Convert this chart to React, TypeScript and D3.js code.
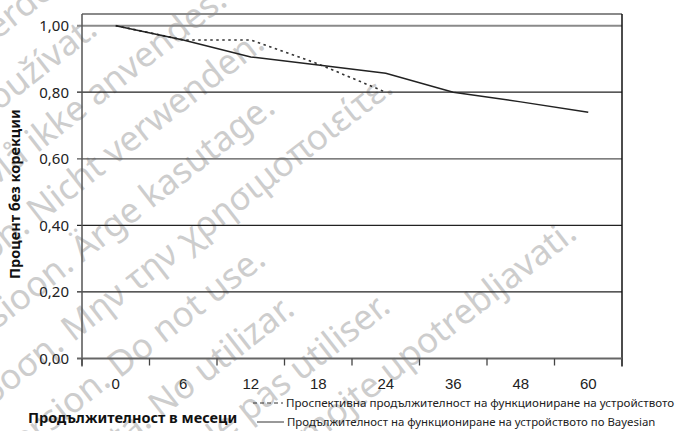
import React from "react";
import * as d3 from "d3";

// ---- data ----
const months = ["0", "6", "12", "18", "24", "36", "48", "60"];
const bayesian = [1.0, 0.957, 0.906, 0.882, 0.857, 0.8, 0.771, 0.74];
const prospective = [1.0, 0.957, 0.957, 0.885, 0.8];
const yTicks = [0, 0.2, 0.4, 0.6, 0.8, 1.0];
const yTickLabels = ["0,00", "0,20", "0,40", "0,60", "0,80", "1,00"];
const yTitle = "Процент без корекции";
const xTitle = "Продължителност в месеци";
const legendLabels = [
  "Проспективна продължителност на функциониране на устройството",
  "Продължителност на функциониране на устройството по Bayesian",
];
const watermarkTexts = [
  "Verouderde versie. Niet gebruiken.",
  "Zastaralá verze. Nepoužívat.",
  "Forældet version. Må ikke anvendes.",
  "Veraltete Version. Nicht verwenden.",
  "Aegunud versioon. Ärge kasutage.",
  "Παλιά έκδοση. Μην την χρησιμοποιείτε.",
  "Outdated version. Do not use.",
  "Versión obsoleta. No utilizar.",
  "Version obsolète. Ne pas utiliser.",
  "Zastarjela verzija. Nemojte upotrebljavati.",
];

// ---- layout ----
const W = 678;
const H = 431;
const left = 82;
const right = 622;
const top = 14;
const bottom = 358.5;
const yMax = 1.035;
const wmEnds = [427, 58, 178, 181, 150, 255, 49, 41, 118, 310];
const wmStart = 30;
const wmStep = 57;
const wmAngle = 38;

export default function App() {
  const x = d3.scaleBand<string>().domain(months).range([left, right]).padding(0);
  const y = d3.scaleLinear().domain([0, yMax]).range([bottom, top]);
  const cx = (m: string) => (x(m) as number) + x.bandwidth() / 2;

  const line = d3
    .line<[string, number]>()
    .x((d) => cx(d[0]))
    .y((d) => y(d[1]))
    .curve(d3.curveLinear);

  const solidData: [string, number][] = bayesian.map((v, i) => [months[i], v]);
  const dashData: [string, number][] = prospective.map((v, i) => [months[i], v]);

  const rad = (wmAngle * Math.PI) / 180;
  const cs = Math.cos(rad);
  const sn = Math.sin(rad);

  const tickXs = months.map((m) => x(m) as number).concat([right]);

  return (
    <svg
      width={W}
      height={H}
      style={{ position: "absolute", left: 0, top: 0, background: "#fff" }}
    >
      <rect x={0} y={0} width={W} height={H} fill="#fff" />
      {/* watermark */}
      <g fill="#cdcdcd" fontFamily="'Noto Sans', sans-serif" fontSize={35}>
        {watermarkTexts.map((t, i) => {
          const c = wmStart + i * wmStep;
          const a = wmEnds[i];
          const px = a * cs + c * sn;
          const py = -a * sn + c * cs;
          return (
            <text
              key={i}
              textAnchor="end"
              transform={`translate(${px},${py}) rotate(${-wmAngle})`}
            >
              {t}
            </text>
          );
        })}
      </g>

      {/* gridlines */}
      {yTicks.map((v, i) => {
        if (v === 0) return null;
        const isTop = v === 1;
        return (
          <line
            key={i}
            x1={left - 5}
            x2={right}
            y1={y(v)}
            y2={y(v)}
            stroke={isTop ? "#8a8a8a" : v === 0.6 ? "#555" : "#222"}
            strokeWidth={isTop ? 2 : 1.3}
          />
        );
      })}
      {/* top border */}
      <line x1={left} x2={right} y1={top} y2={top} stroke="#8a8a8a" strokeWidth={2} />
      {/* left axis */}
      <line x1={left} x2={left} y1={top} y2={bottom + 8} stroke="#555" strokeWidth={1.5} />
      {/* right border */}
      <line x1={right} x2={right} y1={top} y2={bottom + 8} stroke="#111" strokeWidth={1.5} />
      {/* x axis */}
      <line x1={left - 5} x2={right} y1={bottom} y2={bottom} stroke="#666" strokeWidth={2} />
      {tickXs.map((tx, i) => (
        <line key={i} x1={tx} x2={tx} y1={bottom} y2={bottom + 7} stroke="#444" strokeWidth={1.3} />
      ))}

      {/* y tick labels */}
      {yTicks.map((v, i) => (
        <text
          key={i}
          x={69}
          y={y(v) + 5.5}
          textAnchor="end"
          fontFamily="'Noto Sans', sans-serif"
          fontSize={15}
          fill="#222"
        >
          {yTickLabels[i]}
        </text>
      ))}

      {/* x tick labels */}
      {months.map((m) => (
        <text
          key={m}
          x={cx(m)}
          y={389}
          textAnchor="middle"
          fontFamily="'Liberation Sans', Arial, sans-serif"
          fontSize={15}
          fill="#222"
        >
          {m}
        </text>
      ))}

      {/* series */}
      <path d={line(dashData) || ""} fill="none" stroke="#333" strokeWidth={1.6} strokeDasharray="2.5,3.5" />
      <path d={line(solidData) || ""} fill="none" stroke="#222" strokeWidth={1.5} />

      {/* axis titles */}
      <text
        transform={`translate(20,${(y(1) + bottom) / 2 + 2}) rotate(-90)`}
        textAnchor="middle"
        fontFamily="'Noto Sans', sans-serif"
        fontWeight="bold"
        fontSize={14.5}
        fill="#111"
      >
        {yTitle}
      </text>
      <text
        x={28}
        y={423}
        fontFamily="'Noto Sans', sans-serif"
        fontWeight="bold"
        fontSize={14.5}
        fill="#111"
      >
        {xTitle}
      </text>

      {/* legend */}
      <line x1={253} x2={283} y1={403} y2={403} stroke="#333" strokeWidth={1} strokeDasharray="4,3" />
      <line x1={257} x2={284} y1={422} y2={422} stroke="#333" strokeWidth={1} />
      <text x={286} y={407} fontFamily="'Noto Sans', sans-serif" fontSize={11.6} fill="#222">
        {legendLabels[0]}
      </text>
      <text x={287} y={426} fontFamily="'Noto Sans', sans-serif" fontSize={11.4} fill="#222">
        {legendLabels[1]}
      </text>
    </svg>
  );
}
